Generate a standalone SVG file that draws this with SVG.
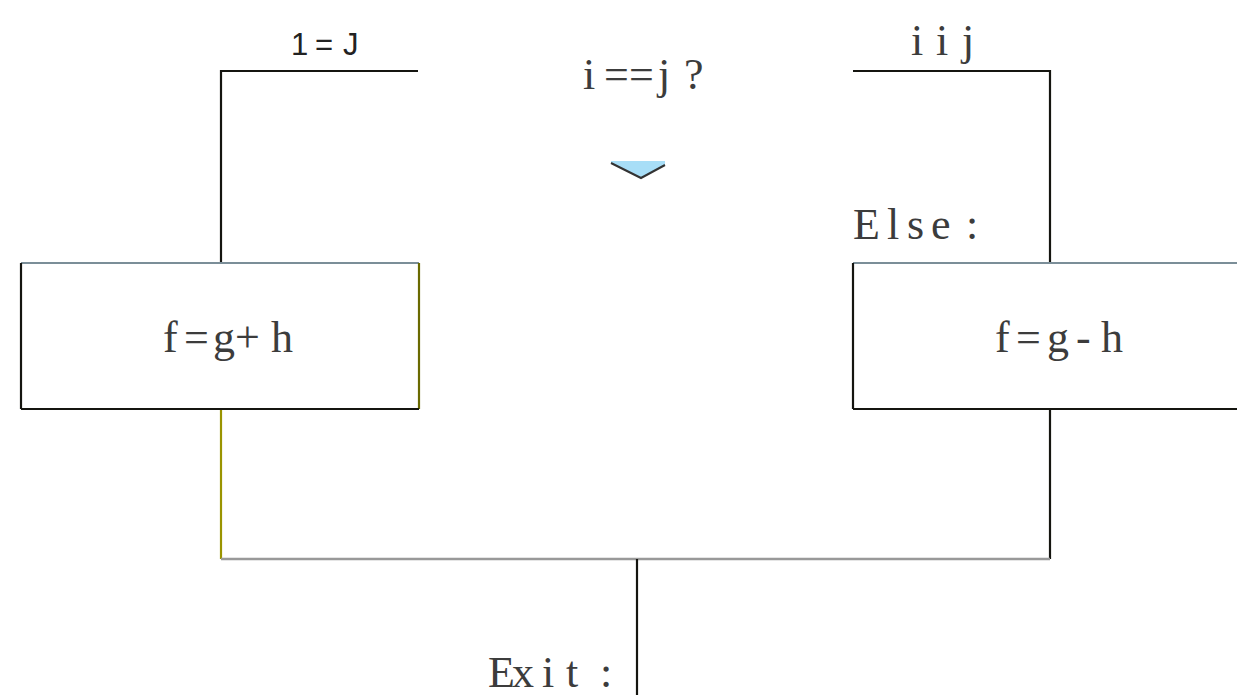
<svg xmlns="http://www.w3.org/2000/svg" width="1237" height="695" viewBox="0 0 1237 695">
<style>
.t{font-family:"Liberation Serif","Times New Roman",serif;font-size:44px;fill:#3c3c3c}
.s{font-family:"Liberation Sans",Arial,sans-serif;font-size:31px;fill:#222}
.k{stroke:#151510;stroke-width:2.2;fill:none}
.bt{stroke:#7b8e98;stroke-width:2.2;fill:none}
.ol{stroke:#9a9400;stroke-width:2.2;fill:none}
.od{stroke:#6a6a00;stroke-width:2.2;fill:none}
.gr{stroke:#999;stroke-width:2.5;fill:none}
</style>
<rect width="1237" height="695" fill="#fff"/>
<g id="connectors">
<polyline class="k" points="418,71 221,71 221,263"/>
<polyline class="k" points="853,71 1050,71 1050,263"/>
<line class="ol" x1="221" y1="409" x2="221" y2="559"/>
<line class="k" x1="1050" y1="409" x2="1050" y2="559"/>
<line class="gr" x1="221" y1="559" x2="1050" y2="559"/>
<line class="k" x1="637" y1="559" x2="637" y2="695"/>
</g>
<g id="label-yes">
<text class="s" x="291 315 343" y="55">1=J</text>
</g>
<g id="label-no">
<text class="t" x="911 936 962" y="55">iij</text>
</g>
<g id="node-condition">
<text class="t" x="583 604 629 658 684" y="89">i==j?</text>
<polygon points="611,161 665,161 665,165 641,178 611,163" fill="#a8def7"/>
<polyline points="611,163 641,178 665,165" stroke="#333" stroke-width="2" fill="none"/>
</g>
<g id="node-then">
<line class="bt" x1="21" y1="263" x2="419" y2="263"/>
<line class="k" x1="21" y1="263" x2="21" y2="409"/>
<line class="od" x1="419" y1="263" x2="419" y2="409"/>
<line class="k" x1="21" y1="409" x2="419" y2="409"/>
<text class="t" x="163 184 213 235 271" y="352">f=g+h</text>
</g>
<g id="node-else">
<text class="t" x="853 887 907 931 966" y="239">Else:</text>
<line class="bt" x1="853" y1="263" x2="1237" y2="263"/>
<line class="k" x1="853" y1="263" x2="853" y2="409"/>
<line class="k" x1="853" y1="409" x2="1237" y2="409"/>
<text class="t" x="995 1016 1047 1076 1101" y="352">f=g-h</text>
</g>
<g id="node-exit">
<text class="t" x="488 512 542 566 600" y="687">Exit:</text>
</g>
</svg>
